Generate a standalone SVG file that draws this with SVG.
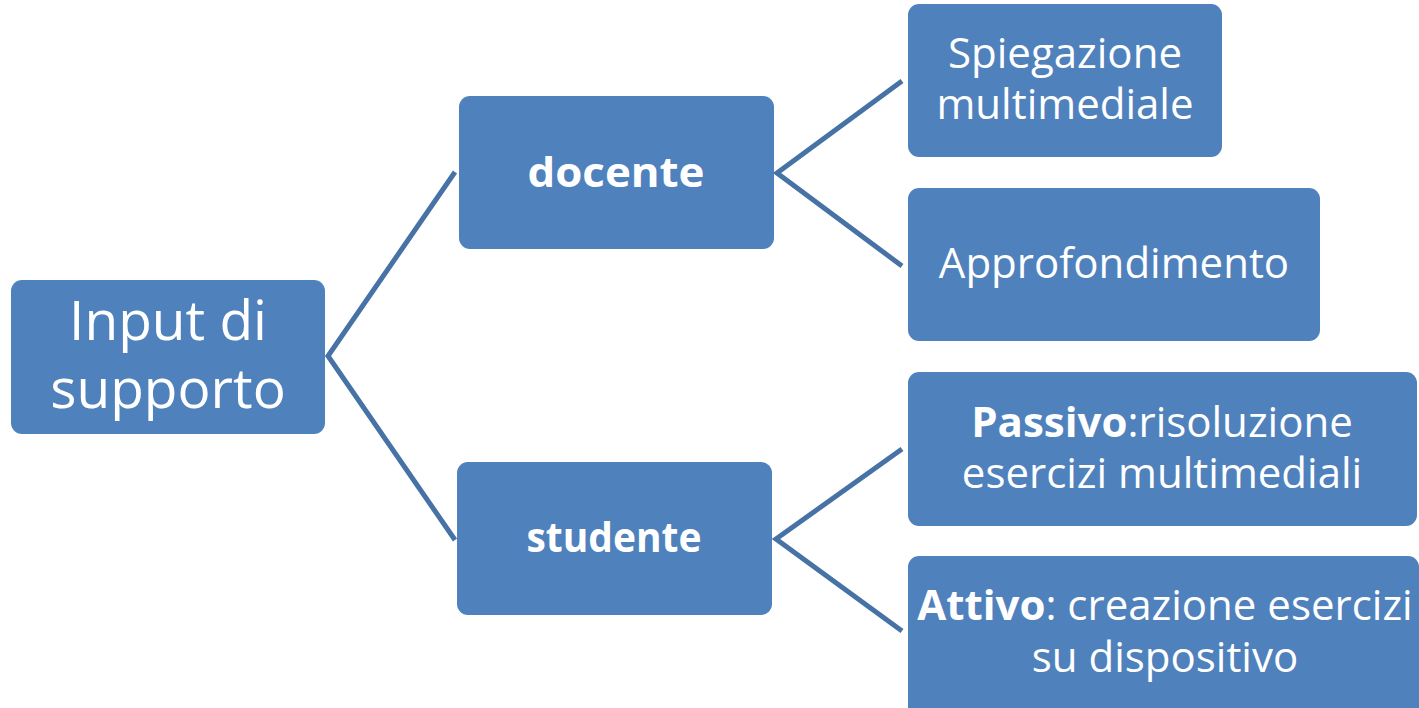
<svg xmlns="http://www.w3.org/2000/svg" width="1419" height="708" viewBox="0 0 1419 708">
<style>
.box{fill:#4F81BD;}
.t{fill:#fff;font-family:"Open Sans","Liberation Sans",sans-serif;text-anchor:middle;}
.s{font-size:42px;}
.b{font-weight:bold;}
.c{stroke:#4672A6;stroke-width:5;fill:none;stroke-linejoin:miter;}
</style>
<rect width="1419" height="708" fill="#fff"/>
<g id="connectors">
<polyline class="c" points="455,172 328,356 455,540"/>
<polyline class="c" points="902,81 777,173 902,266"/>
<polyline class="c" points="902,449 776,539 902,631"/>
</g>
<g id="input">
<rect class="box" x="11" y="280" width="314" height="154" rx="11"/>
<text class="t" x="168" y="340" font-size="55">Input di</text>
<text class="t" x="168" y="408" font-size="55">supporto</text>
</g>
<g id="docente">
<rect class="box" x="459" y="96" width="315" height="153" rx="11"/>
<text class="t b" x="616" y="187" font-size="42" textLength="177" lengthAdjust="spacingAndGlyphs">docente</text>
</g>
<g id="studente">
<rect class="box" x="457" y="462" width="315" height="153" rx="11"/>
<text class="t b" x="614" y="552" font-size="42" textLength="175" lengthAdjust="spacingAndGlyphs">studente</text>
</g>
<g id="spiegazione">
<rect class="box" x="908" y="4" width="314" height="153" rx="11"/>
<text class="t s" x="1065" y="68">Spiegazione</text>
<text class="t s" x="1065" y="119">multimediale</text>
</g>
<g id="approfondimento">
<rect class="box" x="908" y="188" width="412" height="153" rx="11"/>
<text class="t s" x="1114" y="278">Approfondimento</text>
</g>
<g id="passivo">
<rect class="box" x="908" y="372" width="509" height="154" rx="11"/>
<text class="t s" x="1162" y="437"><tspan class="b">Passivo</tspan>:risoluzione</text>
<text class="t s" x="1162" y="488">esercizi multimediali</text>
</g>
<g id="attivo">
<rect class="box" x="908" y="556" width="511" height="164" rx="11"/>
<text class="t s" x="1165" y="620"><tspan class="b">Attivo</tspan>: creazione esercizi</text>
<text class="t s" x="1165" y="672">su dispositivo</text>
</g>
</svg>
